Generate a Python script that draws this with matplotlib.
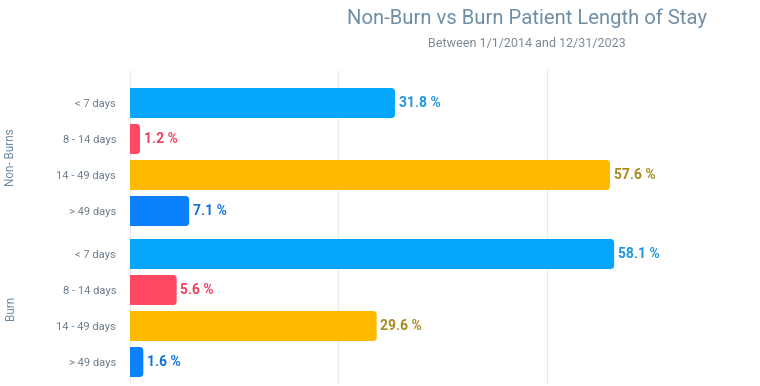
import numpy as np
import matplotlib.pyplot as plt
from matplotlib.patches import FancyBboxPatch

plt.rcParams["font.family"] = ["Roboto", "DejaVu Sans"]

groups = ["Non- Burns", "Burn"]
stay_bins = ["< 7 days", "8 - 14 days", "14 - 49 days", "> 49 days"]
non_burn = [31.8, 1.2, 57.6, 7.1]
burn = [58.1, 5.6, 29.6, 1.6]

bar_colors = ["#05A6FB", "#FF4861", "#FFBA00", "#0A80FB"]
label_colors = ["#1E97DD", "#F0405A", "#A8891E", "#136FDD"]

fig = plt.figure(figsize=(7.6, 3.86), dpi=100)
W, H = 760, 386
ax = fig.add_axes([130 / W, 2 / H, 625 / W, 314 / H])

values = non_burn + burn
labels = stay_bins * 2
ypos = [i * 36 + (i // 4) * 7 for i in range(len(values))]
colors = bar_colors * 2
lcolors = label_colors * 2

bars = ax.barh(ypos, values, height=30, color=colors)
ax.set_xlim(0, 75)
ax.set_ylim(ypos[-1] + 22, -33)

# swap plain bars for rounded ones
for b in bars:
    x0, y0 = b.get_x(), b.get_y()
    w, h = b.get_width(), b.get_height()
    r = min(0.45, w / 2)
    fb = FancyBboxPatch((x0, y0), w, h, boxstyle=f"round,pad=0,rounding_size={r}",
                        mutation_aspect=8.33, facecolor=b.get_facecolor(), edgecolor="none")
    fb.set_clip_path(ax.patch)
    ax.add_patch(fb)
    # square left edge
    ax.barh(y0 + h / 2, r * 1.2, height=h, left=0, color=b.get_facecolor())
    b.remove()

for y, v, c in zip(ypos, values, lcolors):
    ax.text(v + 0.45, y, f"{v} %", color=c, fontsize=10, fontweight="bold",
            va="center", ha="left")

ax.set_yticks(ypos)
ax.set_yticklabels(labels, fontsize=8, color="#6E7F8E")
ax.tick_params(axis="y", length=0, pad=10)
ax.set_xticks([0, 25, 50, 75])
ax.tick_params(axis="x", length=0, labelbottom=False)
ax.grid(axis="x", color="#E9ECEF", linewidth=0.8)
ax.set_axisbelow(True)
for s in ax.spines.values():
    s.set_visible(False)

for g, name in enumerate(groups):
    yc = (ypos[g * 4] + ypos[g * 4 + 3]) / 2
    ax.text(-14.3, yc, name, rotation=90, fontsize=8.5, color="#6C8AA3",
            va="center", ha="center")

fig.text(527 / W, 1 - 18 / H, "Non-Burn vs Burn Patient Length of Stay",
         ha="center", va="center", fontsize=14.6, color="#6F8EA5")
fig.text(527 / W, 1 - 44 / H, "Between 1/1/2014 and 12/31/2023",
         ha="center", va="center", fontsize=9, color="#7B8A97")

fig.savefig("out.png", dpi=100)
